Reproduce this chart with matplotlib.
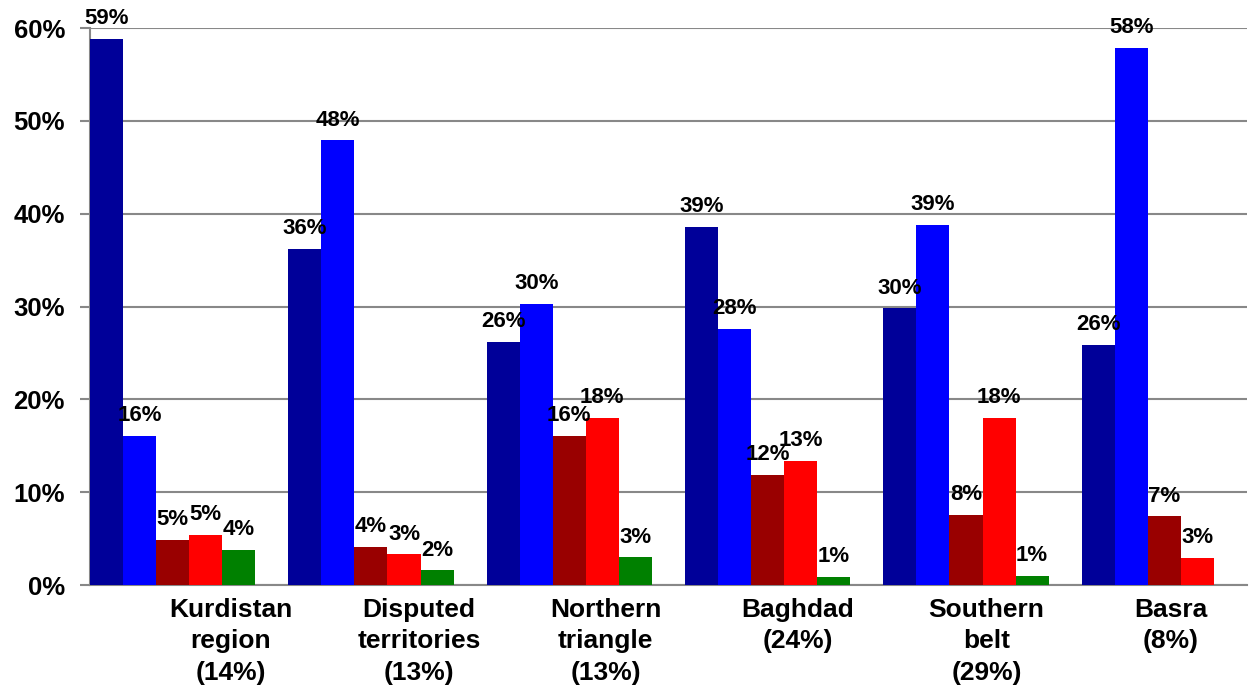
import numpy as np
import matplotlib
matplotlib.use("Agg")
import matplotlib.pyplot as plt

plt.rcParams['font.family'] = ['Liberation Sans', 'DejaVu Sans']
plt.rcParams['font.weight'] = 'bold'

# regions (share of population in brackets)
regions = ['Kurdistan\nregion\n(14%)', 'Disputed\nterritories\n(13%)', 'Northern\ntriangle\n(13%)',
           'Baghdad\n(24%)', 'Southern\nbelt\n(29%)', 'Basra\n(8%)']

# five series per region, in %
s1 = [58.8, 36.2, 26.2, 38.6, 29.8, 25.9]   # navy
s2 = [16.1, 47.9, 30.3, 27.6, 38.8, 57.9]   # blue
s3 = [4.9, 4.1, 16.1, 11.9, 7.6, 7.4]       # dark red
s4 = [5.4, 3.3, 18.0, 13.4, 18.0, 2.9]      # red
s5 = [3.8, 1.6, 3.0, 0.9, 1.0, np.nan]      # green (none for Basra)

series = [s1, s2, s3, s4, s5]
colors = ['#000099', '#0000FF', '#990000', '#FF0000', '#008000']

fig = plt.figure(figsize=(12.53, 6.90), dpi=100)
ax = fig.add_axes([0.0718, 0.152, 0.9234, 0.8074])

w = 1 / 6
x = np.arange(len(regions))
for k, (vals, c) in enumerate(zip(series, colors)):
    vals = np.array(vals, dtype=float)
    ax.bar(x + k * w, vals, width=w, align='edge', color=c, edgecolor='none', zorder=3)
    for xi, v in zip(x + k * w + w / 2, vals):
        if np.isnan(v):
            continue
        ax.annotate(f"{v:.0f}%", (xi, v), xytext=(0, 7), textcoords='offset points',
                    ha='center', va='bottom', fontsize=16, fontweight='bold',
                    annotation_clip=False, zorder=4)

ax.set_xlim(0, 5 + 5 / 6)
ax.set_ylim(0, 60)
ax.set_yticks(np.arange(0, 61, 10))
ax.set_yticklabels([f"{t}%" for t in range(0, 61, 10)], fontsize=18.5, fontweight='bold')
ax.yaxis.grid(True, color='#888888', linewidth=1.5, zorder=0)
ax.tick_params(axis='y', length=7, width=1.5, color='#888888', pad=11)

# category labels (placed as in the original slide)
label_x = [0.71, 1.66, 2.60, 3.57, 4.52, 5.45]
ax.set_xticks(label_x)
ax.set_xticklabels(regions, fontsize=19, fontweight='bold', linespacing=1.4)
ax.tick_params(axis='x', length=0, pad=9)

for side in ['top', 'right']:
    ax.spines[side].set_visible(False)
for side in ['left', 'bottom']:
    ax.spines[side].set_color('#888888')
    ax.spines[side].set_linewidth(1.5)

plt.savefig('out.png', dpi=100)
